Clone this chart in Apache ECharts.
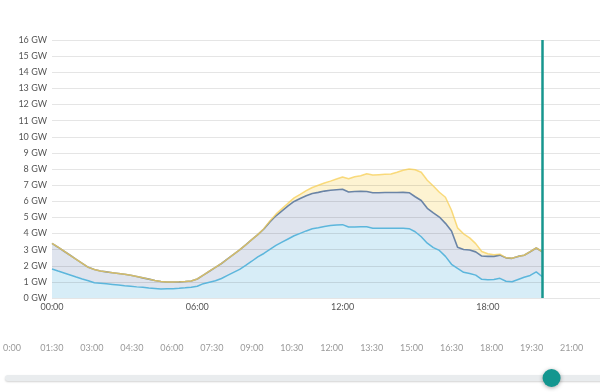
<!DOCTYPE html>
<html>
<head>
<meta charset="utf-8">
<script src="https://cdn.jsdelivr.net/npm/echarts@6/dist/echarts.min.js"></script>
<style>
html,body{margin:0;padding:0;background:#fff;}
#c{width:600px;height:392px;}
</style>
</head>
<body>
<div id="c"></div>
<script>
// ---- data (15-minute samples) ----
var times = ["00:00","00:15","00:30","00:45","01:00","01:15","01:30","01:45","02:00","02:15","02:30","02:45",
"03:00","03:15","03:30","03:45","04:00","04:15","04:30","04:45","05:00","05:15","05:30","05:45",
"06:00","06:15","06:30","06:45","07:00","07:15","07:30","07:45","08:00","08:15","08:30","08:45",
"09:00","09:15","09:30","09:45","10:00","10:15","10:30","10:45","11:00","11:15","11:30","11:45",
"12:00","12:15","12:30","12:45","13:00","13:15","13:30","13:45","14:00","14:15","14:30","14:45",
"15:00","15:15","15:30","15:45","16:00","16:15","16:30","16:45","17:00","17:15","17:30","17:45",
"18:00","18:15","18:30","18:45","19:00","19:15","19:30","19:45","20:00","20:15"];

// total (yellow, top line)
var totalGW = [3.39,3.15,2.90,2.65,2.40,2.15,1.90,1.77,1.67,1.62,1.57,1.52,
1.47,1.41,1.33,1.25,1.17,1.08,1.02,0.99,0.99,1.00,1.02,1.05,
1.18,1.42,1.66,1.90,2.14,2.42,2.70,2.98,3.29,3.62,3.93,4.30,
4.78,5.20,5.54,5.88,6.21,6.43,6.66,6.85,6.99,7.13,7.25,7.38,
7.50,7.40,7.52,7.58,7.70,7.63,7.65,7.67,7.69,7.80,7.92,8.00,
7.95,7.80,7.30,6.95,6.56,6.25,5.44,4.35,3.98,3.73,3.37,2.88,
2.74,2.68,2.72,2.49,2.46,2.58,2.65,2.87,3.10,2.87];

// middle (slate line)
var middleGW = [3.39,3.15,2.90,2.65,2.40,2.15,1.90,1.77,1.67,1.62,1.57,1.52,
1.47,1.41,1.33,1.25,1.17,1.08,1.02,0.99,0.99,1.00,1.02,1.05,
1.18,1.42,1.66,1.90,2.14,2.42,2.70,2.98,3.29,3.62,3.93,4.28,
4.72,5.10,5.41,5.71,5.99,6.17,6.34,6.48,6.55,6.63,6.68,6.71,
6.74,6.57,6.60,6.62,6.60,6.53,6.53,6.54,6.54,6.54,6.55,6.53,
6.28,6.05,5.56,5.28,5.02,4.63,4.15,3.15,3.01,2.98,2.86,2.60,
2.58,2.58,2.66,2.49,2.46,2.58,2.65,2.87,3.10,2.87];

// lower (light blue line)
var lowerGW = [1.80,1.67,1.55,1.43,1.30,1.18,1.07,0.95,0.92,0.88,0.84,0.80,
0.76,0.73,0.69,0.66,0.62,0.59,0.56,0.57,0.58,0.60,0.63,0.67,
0.73,0.89,0.98,1.07,1.21,1.40,1.59,1.78,2.02,2.28,2.55,2.76,
3.01,3.26,3.46,3.66,3.86,4.01,4.16,4.29,4.36,4.44,4.49,4.52,
4.55,4.40,4.41,4.42,4.42,4.33,4.33,4.33,4.33,4.33,4.33,4.30,
4.11,3.80,3.40,3.12,2.95,2.58,2.09,1.83,1.59,1.52,1.42,1.16,
1.13,1.15,1.22,1.04,1.01,1.15,1.29,1.40,1.62,1.32];

var currentTime = "20:15";
var yTicksGW = [0,1,2,3,4,5,6,7,8,9,10,11,12,13,14,15,16];
var mainAxisMaxMin = 1358;   // visible end of main time axis (minutes)
var sliderAxisMaxMin = 1324; // visible end of timeline slider axis (minutes)

// ---- helpers ----
function toMin(s){var p=s.split(':');return (+p[0])*60+(+p[1]);}
function fmt(m){var h=Math.floor(m/60),mm=m%60;return (h<10?'0':'')+h+':'+(mm<10?'0':'')+mm;}
function pairs(vals){return vals.map(function(v,i){return [toMin(times[i]),v];});}

var FONT = 'Lato';
var chart = echarts.init(document.getElementById('c'), null, {renderer:'canvas'});

var fills = [
  {name:'total', data: totalGW, fill:'#fdf3d2'},
  {name:'middle', data: middleGW, fill:'#dfe4ee'},
  {name:'lower', data: lowerGW, fill:'#d7edf7'}
];
var lines = [
  {name:'middleL', data: middleGW, color:'#6a84a6', width:1.6, opacity:1},
  {name:'lowerL', data: lowerGW, color:'#5cb6dc', width:1.5, opacity:1},
  {name:'totalL', data: totalGW, color:'#f7cf55', width:1.5, opacity:0.75}
];

var series = [];
fills.forEach(function(f){
  series.push({type:'line', name:f.name, xAxisIndex:0, yAxisIndex:0, data:pairs(f.data),
    showSymbol:false, symbol:'none', lineStyle:{width:0}, areaStyle:{color:f.fill, opacity:1},
    z:1, silent:true});
});
lines.forEach(function(l){
  series.push({type:'line', name:l.name, xAxisIndex:0, yAxisIndex:0, data:pairs(l.data),
    showSymbol:false, symbol:'none', lineStyle:{width:l.width, color:l.color, opacity:l.opacity},
    z:4, silent:true});
});
// current time marker
series[series.length-1].markLine = {
  silent:true, symbol:['none','none'], label:{show:false},
  lineStyle:{color:'#17968e', width:2.5, type:'solid', opacity:1},
  data:[{xAxis: toMin(currentTime)}]
};

chart.setOption({
  animation:false,
  backgroundColor:'#ffffff',
  grid:[
    {left:52, top:40, right:0, height:258},
    {left:11.5, top:340, right:0, height:1}
  ],
  xAxis:[
    {type:'value', gridIndex:0, min:0, max:mainAxisMaxMin, interval:360,
     axisLine:{show:false}, axisTick:{show:false}, splitLine:{show:false},
     axisLabel:{color:'#555', fontFamily:FONT, fontSize:9, margin:5, showMaxLabel:false,
       formatter:function(v){return fmt(v);}}},
    {type:'value', gridIndex:1, min:0, max:sliderAxisMaxMin, interval:90,
     axisLine:{show:false}, axisTick:{show:false}, splitLine:{show:false},
     axisLabel:{color:'#9a9a9a', fontFamily:FONT, fontSize:9, margin:3, showMaxLabel:false,
       formatter:function(v){return v===0?'0:00':fmt(v);}}}
  ],
  yAxis:[
    {type:'value', gridIndex:0, min:yTicksGW[0], max:yTicksGW[yTicksGW.length-1], interval:1, z:3,
     axisLine:{show:false}, axisTick:{show:false},
     splitLine:{show:true, lineStyle:{color:'rgba(0,0,0,0.1)', width:1}},
     axisLabel:{color:'#555', fontFamily:FONT, fontSize:9, margin:5, formatter:function(v){return v+' GW';}}},
    {type:'value', gridIndex:1, show:false}
  ],
  series: series
});

// slider (track + handle) under the timeline labels
var hx = chart.convertToPixel({xAxisIndex:1}, toMin(currentTime));
chart.setOption({
  graphic:[
    {type:'rect', shape:{x:5, y:375, width:640, height:6, r:3}, z:10,
     style:{fill:'#e9ecee', shadowBlur:2, shadowColor:'rgba(0,0,0,0.18)', shadowOffsetY:1}},
    {type:'circle', shape:{cx:hx, cy:378, r:9}, z:11,
     style:{fill:'#13968f', shadowBlur:4, shadowColor:'rgba(0,0,0,0.35)', shadowOffsetY:1}}
  ]
});
</script>
</body>
</html>
